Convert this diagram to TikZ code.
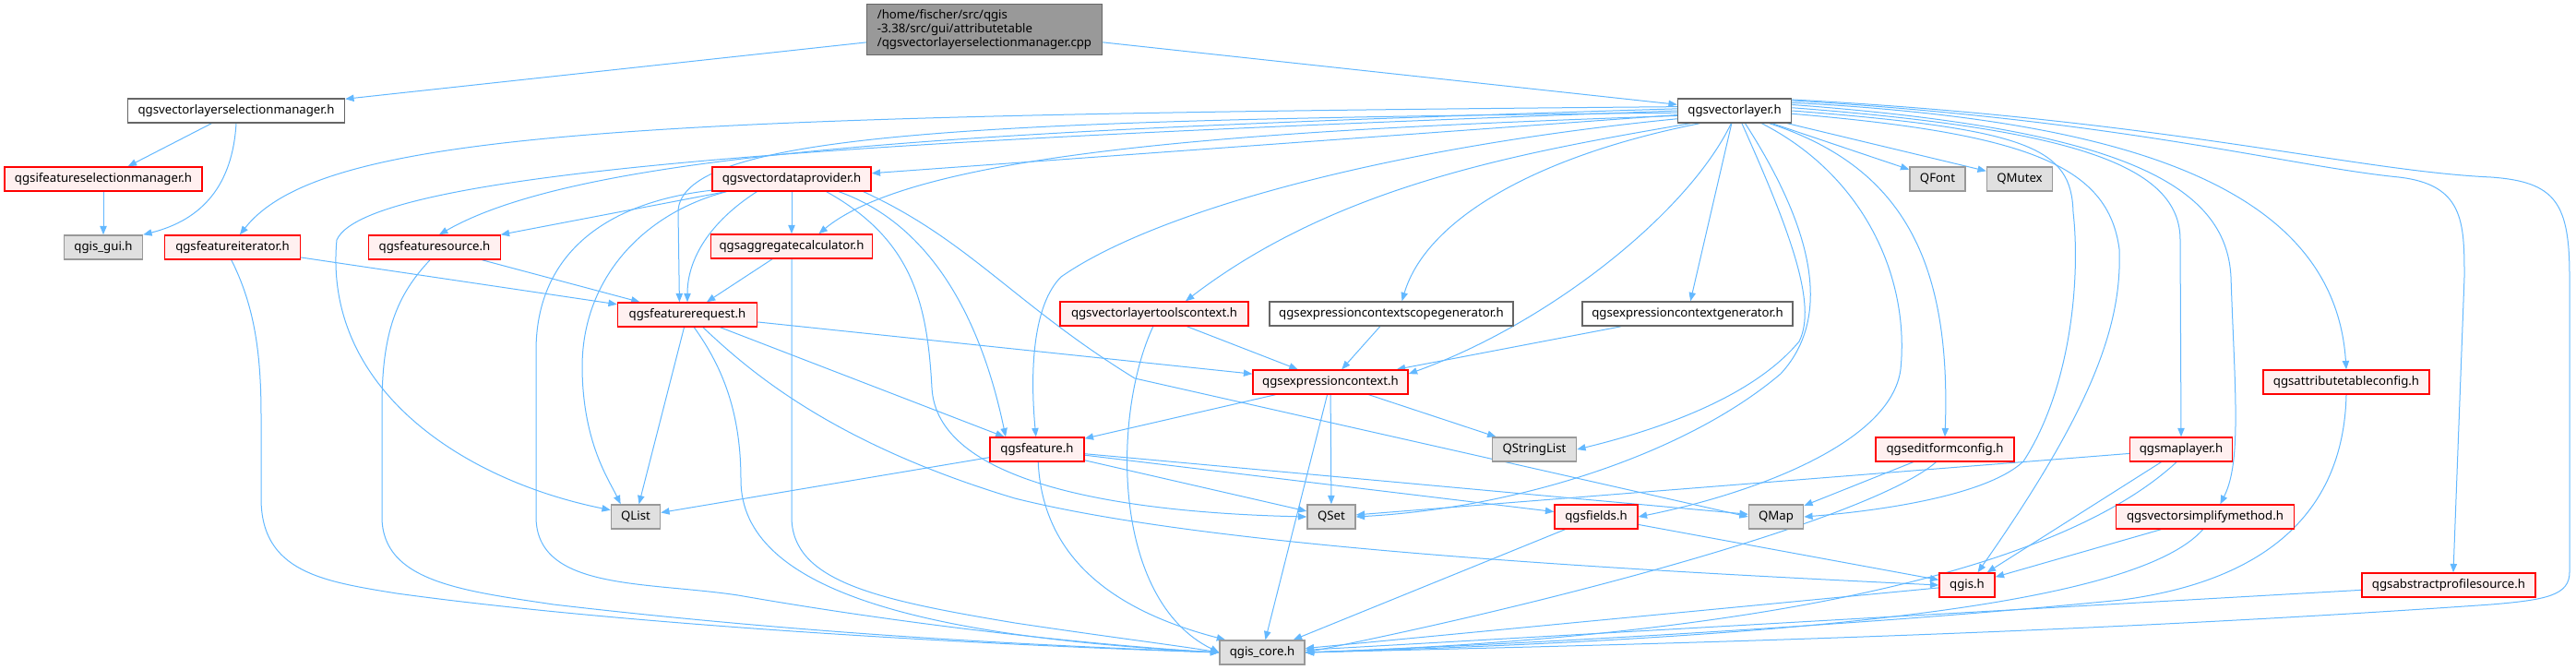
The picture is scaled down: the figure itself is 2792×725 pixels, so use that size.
\documentclass[tikz,border=0pt]{standalone}
\usepackage{fontspec}
\setmainfont{Noto Sans}
\usetikzlibrary{arrows.meta,backgrounds}
\definecolor{edgeblue}{HTML}{63B8FF}
\definecolor{redfill}{HTML}{FFF0F0}
\definecolor{grayfill}{HTML}{E0E0E0}
\definecolor{grayline}{HTML}{999999}
\definecolor{darkline}{HTML}{666666}
\definecolor{topfill}{HTML}{999999}
\tikzset{
	box/.style={draw, line width=1.1pt, minimum height=19.5pt, inner xsep=1pt, inner ysep=0pt, font=\fontsize{9.9}{11.3}\selectfont},
	wd/.style={minimum width=#1*0.75pt},
	redbox/.style={box, draw=red, fill=redfill},
	graybox/.style={box, draw=grayline, fill=grayfill},
	whitebox/.style={box, draw=darkline, fill=white},
	topbox/.style={box, draw=darkline, fill=topfill, align=left, minimum height=41.25pt},
	edge/.style={draw=edgeblue, line width=0.75pt, -{Triangle[length=7pt,width=5.5pt]}}
}

\begin{document}
\begin{tikzpicture}[x=0.75pt,y=-0.75pt]
		\useasboundingbox (0,0) rectangle (2792,725);
		
		\node[topbox, wd=255] (top) at (1067,32) {/home/fischer/src/qgis\\-3.38/src/gui/attributetable\\/qgsvectorlayerselectionmanager.cpp};
		\node[whitebox, wd=235] (vlsm) at (256,120) {qgsvectorlayerselectionmanager.h};
		\node[whitebox, wd=123] (vl) at (1880,120) {qgsvectorlayer.h};
		\node[redbox, wd=214] (ifsm) at (112,194) {qgsifeatureselectionmanager.h};
		\node[graybox, wd=85] (gui) at (112,268) {qgis\_gui.h};
		\node[redbox, wd=172] (vdp) at (858,194) {qgsvectordataprovider.h};
		\node[graybox, wd=60] (font) at (2100,194) {QFont};
		\node[graybox, wd=71] (mutex) at (2189,194) {QMutex};
		\node[redbox, wd=147] (fit) at (252,268) {qgsfeatureiterator.h};
		\node[redbox, wd=143] (fsrc) at (471,268) {qgsfeaturesource.h};
		\node[redbox, wd=175] (aggc) at (858,267) {qgsaggregatecalculator.h};
		\node[redbox, wd=151] (freq) at (745,341) {qgsfeaturerequest.h};
		\node[redbox, wd=204] (vltc) at (1251,340) {qgsvectorlayertoolscontext.h};
		\node[whitebox, wd=264] (ecsg) at (1508,340) {qgsexpressioncontextscopegenerator.h};
		\node[whitebox, wd=228] (ecg) at (1829,340) {qgsexpressioncontextgenerator.h};
		\node[redbox, wd=168] (ec) at (1442,414) {qgsexpressioncontext.h};
		\node[redbox, wd=180] (atc) at (2543,414) {qgsattributetableconfig.h};
		\node[redbox, wd=102] (feat) at (1124,487) {qgsfeature.h};
		\node[graybox, wd=91] (slist) at (1663,487) {QStringList};
		\node[redbox, wd=150] (efc) at (2108,487) {qgseditformconfig.h};
		\node[redbox, wd=111] (ml) at (2364,487) {qgsmaplayer.h};
		\node[graybox, wd=53] (qlist) at (689,560) {QList};
		\node[graybox, wd=52] (qset) at (1443,560) {QSet};
		\node[redbox, wd=90] (flds) at (1730,560) {qgsfields.h};
		\node[graybox, wd=59] (qmap) at (1925,560) {QMap};
		\node[redbox, wd=193] (vsm) at (2390,560) {qgsvectorsimplifymethod.h};
		\node[redbox, wd=60] (qgis) at (2132,634) {qgis.h};
		\node[redbox, wd=188] (aps) at (2654,634) {qgsabstractprofilesource.h};
		\node[graybox, wd=92] (core) at (1368,707) {qgis\_core.h};
		
		\begin{scope}[on background layer]
		\draw[edge] (top) -- (vlsm);
		\draw[edge] (top) -- (vl);
		\draw[edge] (vlsm) -- (ifsm);
		\draw[edge] (vlsm.south) .. controls (252,200) and (220,238) .. (gui.north east);
		\draw[edge] (ifsm) -- (gui);
		
		\draw[edge] (vl) -- (vdp);
		\draw[edge] (vl.176) .. controls (700,125) and (350,140) .. (fit.60);
		\draw[edge] (vl.180) .. controls (1000,150) and (400,180) .. (365,260) .. controls (350,420) and (500,520) .. (qlist.165);
		\draw[edge] (vl.178) .. controls (1100,140) and (640,160) .. (fsrc.70);
		\draw[edge] (vl.182) .. controls (1100,130) and (735,140) .. (735,230) -- (freq.122);
		\draw[edge] (vl.185) .. controls (1400,140) and (1000,160) .. (aggc.25);
		\draw[edge] (vl.188) .. controls (1500,160) and (1250,230) .. (1150,300) .. controls (1120,330) and (1116,400) .. (feat.95);
		\draw[edge] (vl.196) .. controls (1650,165) and (1450,200) .. (vltc.22);
		\draw[edge] (vl.200) .. controls (1660,170) and (1545,240) .. (ecsg.50);
		\draw[edge] (vl) -- (ecg);
		\draw[edge] (vl.255) .. controls (1830,230) and (1680,350) .. (ec.6);
		\draw[edge] (vl.300) .. controls (1940,250) and (1970,330) .. (1950,370) .. controls (1900,430) and (1800,465) .. (slist.east);
		\draw[edge] (vl.310) .. controls (1960,240) and (1990,340) .. (1930,405) .. controls (1830,490) and (1650,550) .. (qset.east);
		\draw[edge] (vl.335) .. controls (2020,190) and (2070,300) .. (2060,400) .. controls (2050,480) and (1900,535) .. (flds.east);
		\draw[edge] (vl.340) .. controls (2060,180) and (2115,280) .. (efc.north);
		\draw[edge] (vl) -- (font);
		\draw[edge] (vl) -- (mutex);
		\draw[edge] (vl.east) .. controls (2200,140) and (2245,160) .. (2247,230) .. controls (2255,300) and (2245,420) .. (2193,500) .. controls (2150,540) and (2020,555) .. (qmap.east);
		\draw[edge] (vl.357) .. controls (2200,145) and (2285,180) .. (2297,270) .. controls (2300,350) and (2270,440) .. (qgis.50);
		\draw[edge] (vl.3) .. controls (2250,140) and (2363,180) .. (2363,260) -- (ml.north);
		\draw[edge] (vl.6) .. controls (2300,140) and (2413,200) .. (2418,300) .. controls (2422,420) and (2430,500) .. (vsm.40);
		\draw[edge] (vl.8) .. controls (2300,130) and (2530,200) .. (atc.north);
		\draw[edge] (vl.10) .. controls (2300,130) and (2480,180) .. (2600,192) .. controls (2670,200) and (2671,240) .. (2671,300) -- (aps.70);
		\draw[edge] (vl.11) .. controls (2350,130) and (2550,185) .. (2700,192) .. controls (2770,197) and (2785,220) .. (2785,300) -- (2785,620) .. controls (2785,645) and (2760,650) .. (2700,655) .. controls (2200,690) and (1700,700) .. (core.east);
		
		\draw[edge] (vdp) -- (fsrc);
		\draw[edge] (vdp.200) .. controls (770,240) and (745,280) .. (freq.north);
		\draw[edge] (vdp) -- (aggc);
		\draw[edge] (vdp.345) .. controls (1000,240) and (1060,330) .. (feat.158);
		\draw[edge] (vdp.340) .. controls (990,260) and (1005,330) .. (1010,420) .. controls (1015,520) and (1200,555) .. (qset.west);
		\draw[edge] (vdp.350) .. controls (1050,260) and (1100,330) .. (1230,410) -- (qmap.west);
		\draw[edge] (vdp.191) .. controls (700,230) and (630,300) .. (631,400) .. controls (632,480) and (660,520) .. (qlist.140);
		\draw[edge] (vdp.188) .. controls (650,220) and (581,280) .. (581,380) -- (581,560) .. controls (581,640) and (700,630) .. (800,645) .. controls (1000,680) and (1200,700) .. (core.west);
		
		\draw[edge] (fit) -- (freq);
		\draw[edge] (fit.265) .. controls (275,330) and (283,380) .. (283,450) -- (283,540) .. controls (283,620) and (350,630) .. (430,643) .. controls (700,680) and (1100,700) .. (core.west);
		\draw[edge] (fsrc) -- (freq);
		\draw[edge] (fsrc.250) .. controls (430,320) and (414,360) .. (414,440) -- (414,560) .. controls (414,630) and (500,640) .. (600,655) .. controls (900,690) and (1150,700) .. (core.west);
		\draw[edge] (aggc) -- (freq);
		\draw[edge] (aggc.south) -- (858,560) .. controls (858,630) and (950,650) .. (1100,675) .. controls (1200,690) and (1280,700) .. (core.west);
		
		\draw[edge] (freq) -- (ec);
		\draw[edge] (freq) -- (feat);
		\draw[edge] (freq) -- (qlist);
		\draw[edge] (freq.298) .. controls (785,400) and (803,450) .. (803,520) .. controls (803,640) and (1000,690) .. (core.west);
		\draw[edge] (freq.321) .. controls (810,400) and (900,480) .. (1100,540) .. controls (1300,590) and (1700,615) .. (qgis.west);
		
		\draw[edge] (feat) -- (qlist);
		\draw[edge] (feat) -- (qset);
		\draw[edge] (feat) -- (flds);
		\draw[edge] (feat) -- (qmap);
		\draw[edge] (feat.275) .. controls (1130,600) and (1200,660) .. (core.161);
		\draw[edge] (ec) -- (feat);
		\draw[edge] (ec) -- (qset);
		\draw[edge] (ec) -- (core);
		\draw[edge] (ec) -- (slist);
		\draw[edge] (vltc) -- (ec);
		\draw[edge] (vltc.265) .. controls (1205,450) and (1205,650) .. (core.west);
		\draw[edge] (ecsg) -- (ec);
		\draw[edge] (ecg) -- (ec);
		
		\draw[edge] (efc) -- (qmap);
		\draw[edge] (efc.235) .. controls (2030,560) and (1700,650) .. (core.east);
		\draw[edge] (ml) -- (qset);
		\draw[edge] (ml) -- (qgis);
		\draw[edge] (ml.250) .. controls (2230,620) and (1900,690) .. (core.east);
		\draw[edge] (vsm) -- (qgis);
		\draw[edge] (vsm.260) .. controls (2320,650) and (2000,690) .. (core.east);
		\draw[edge] (atc.south) .. controls (2540,560) and (2450,630) .. (2300,650) .. controls (2000,680) and (1600,700) .. (core.east);
		\draw[edge] (aps) -- (core);
		\draw[edge] (qgis) -- (core);
		\draw[edge] (flds) -- (core);
		\draw[edge] (flds) -- (qgis);
		\end{scope}
	\end{tikzpicture}
\end{document}
